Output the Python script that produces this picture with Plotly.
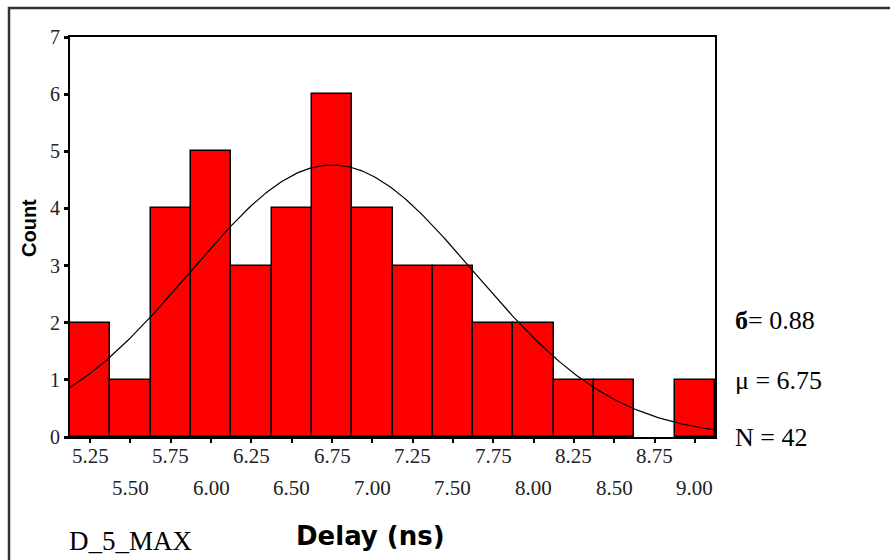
import numpy as np
import plotly.graph_objects as go

bin_centers = [5.25, 5.50, 5.75, 6.00, 6.25, 6.50, 6.75, 7.00, 7.25, 7.50, 7.75, 8.00, 8.25, 8.50, 8.75, 9.00]
counts = [2, 1, 4, 5, 3, 4, 6, 4, 3, 3, 2, 2, 1, 1, 0, 1]
tick_labels = ["5.25", "5.50", "5.75", "6.00", "6.25", "6.50", "6.75", "7.00",
               "7.25", "7.50", "7.75", "8.00", "8.25", "8.50", "8.75", "9.00"]
y_ticks = [0, 1, 2, 3, 4, 5, 6, 7]
sigma = 0.88
mu = 6.75
N = 42
bin_width = 0.25

fig = go.Figure()
bx = [c for c, n in zip(bin_centers, counts) if n > 0]
by = [n for n in counts if n > 0]
fig.add_trace(go.Bar(x=bx, y=by, width=bin_width,
                     marker=dict(color="#ff0000", line=dict(color="black", width=1.5)),
                     showlegend=False))

xs = np.linspace(bin_centers[0] - bin_width / 2, bin_centers[-1] + bin_width / 2, 300)
ys = N * bin_width / (sigma * np.sqrt(2 * np.pi)) * np.exp(-0.5 * ((xs - mu) / sigma) ** 2)
fig.add_trace(go.Scatter(x=xs, y=ys, mode="lines", line=dict(color="black", width=1.2),
                         showlegend=False))

L, R, T, B = 70, 715, 37, 437
W, H = 890, 560
pw, ph = R - L, B - T

def px(xp):
    return (xp - L) / pw

def py(yp):
    return (B - yp) / ph

annotations = []
for i, (v, lab) in enumerate(zip(bin_centers, tick_labels)):
    row_y = 456 if i % 2 == 0 else 488
    annotations.append(dict(x=v, y=py(row_y), xref="x", yref="paper", text=lab,
                            showarrow=False, xanchor="center", yanchor="middle",
                            font=dict(family="Liberation Serif", size=21, color="#222")))

serif = dict(family="Liberation Serif", size=26, color="black")
annotations += [
    dict(x=px(29), y=py(228), xref="paper", yref="paper", text="<b>Count</b>", textangle=-90,
         showarrow=False, xanchor="center", yanchor="middle",
         font=dict(family="Liberation Sans", size=20, color="black")),
    dict(x=px(370), y=py(536), xref="paper", yref="paper", text="<b>Delay (ns)</b>",
         showarrow=False, xanchor="center", yanchor="middle",
         font=dict(family="DejaVu Sans", size=26, color="black")),
    dict(x=px(67), y=py(541), xref="paper", yref="paper", text="D_5_MAX",
         xanchor="left", yanchor="middle", showarrow=False,
         font=dict(family="Liberation Serif", size=27, color="black")),
    dict(x=px(733), y=py(320), xref="paper", yref="paper",
         text=f"<b>б</b>= {sigma:.2f}", xanchor="left", yanchor="middle",
         showarrow=False, font=serif),
    dict(x=px(733), y=py(380), xref="paper", yref="paper",
         text=f"μ = {mu:.2f}", xanchor="left", yanchor="middle",
         showarrow=False, font=serif),
    dict(x=px(733), y=py(437), xref="paper", yref="paper",
         text=f"N = {N}", xanchor="left", yanchor="middle",
         showarrow=False, font=serif),
]

shapes = [dict(type="rect", xref="paper", yref="paper",
               x0=px(9), x1=px(900), y0=py(8), y1=py(580),
               line=dict(color="#333", width=2.5), fillcolor="rgba(0,0,0,0)", layer="below")]

fig.update_layout(
    width=W, height=H,
    margin=dict(l=L, r=W - R, t=T, b=H - B),
    paper_bgcolor="white", plot_bgcolor="white",
    bargap=0,
    xaxis=dict(range=[bin_centers[0] - bin_width / 2, bin_centers[-1] + bin_width / 2],
               tickvals=bin_centers, ticktext=[""] * len(bin_centers),
               ticks="outside", ticklen=4, tickwidth=2, tickcolor="black",
               showline=True, linecolor="black", linewidth=2, mirror=True,
               showgrid=False, zeroline=False),
    yaxis=dict(range=[0, 7], tickvals=y_ticks, ticks="outside", ticklen=4, tickwidth=3,
               tickcolor="black", showline=True, linecolor="black", linewidth=2, mirror=True,
               showgrid=False, zeroline=False,
               tickfont=dict(family="Liberation Serif", size=20, color="#222")),
    annotations=annotations,
    shapes=shapes,
)

fig.write_html("out.html")
